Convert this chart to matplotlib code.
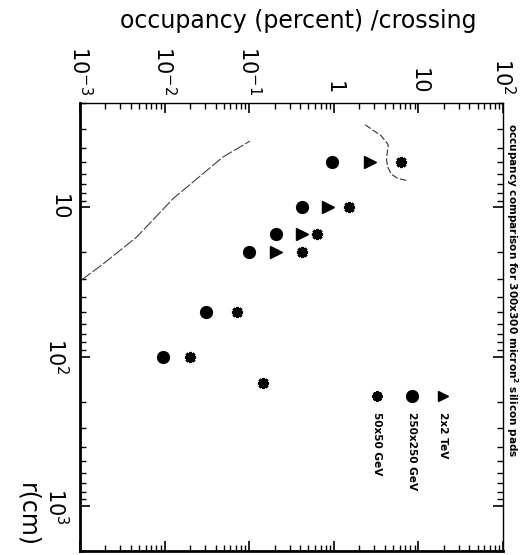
import numpy as np
import matplotlib
matplotlib.use("Agg")
import matplotlib.pyplot as plt
from matplotlib.ticker import FixedLocator, FixedFormatter, LogLocator, NullFormatter

# r (cm) positions of the measurements
r_circ = [5, 10, 15, 20, 50, 100]
occ_circ = [0.94, 0.42, 0.21, 0.10, 0.031, 0.0095]   # 250x250 GeV

r_tri = [5, 10, 15, 20]
occ_tri = [2.7, 0.85, 0.42, 0.21]                   # 2x2 TeV

r_star = [5, 10, 15, 20, 50, 100, 150]
occ_star = [6.3, 1.5, 0.64, 0.42, 0.071, 0.020, 0.145]  # 50x50 GeV

# thin curve (drawn on the scan)
curve_occ = [0.00105, 0.00188, 0.00468, 0.0127, 0.049, 0.102]
curve_r = [30.5, 23.9, 15.8, 8.7, 4.6, 3.6]

arc_occ = [2.35, 3.6, 4.4, 4.3, 4.2, 4.35, 4.8, 5.7, 7.2]
arc_r = [2.8, 3.3, 3.8, 4.2, 4.8, 5.4, 6.0, 6.4, 6.6]

xticks = [1e-3, 1e-2, 1e-1, 1, 10, 100]
xlabels = [r'$10^{-3}$', r'$10^{-2}$', r'$10^{-1}$', '1', '10', r'$10^{2}$']
yticks = [10, 100, 1000]
ylabels = ['10', r'$10^{2}$', r'$10^{3}$']

legend_names = ['2x2 TeV', '250x250 GeV', '50x50 GeV']

fig = plt.figure(figsize=(5.29, 5.55), dpi=100)
ax = fig.add_axes([80/529, 1-551/555, 423/529, 448/555])

ax.plot(curve_occ, curve_r, color='0.25', lw=0.8, ls=(0, (10, 2)))
ax.plot(arc_occ, arc_r, color='0.2', lw=0.8, ls=(0, (6, 2)))

star_m = (8, 2, 0)
ax.plot(occ_circ, r_circ, 'o', color='k', ms=8.5, ls='none')
ax.plot(occ_tri, r_tri, '>', color='k', ms=8, ls='none')
ax.plot(occ_star, r_star, marker=star_m, color='k', ms=8, mew=2.2, ls='none')

ax.set_xscale('log')
ax.set_yscale('log')
ax.set_xlim(1e-3, 1e2)
ax.set_ylim(2000, 2)

ax.xaxis.set_major_locator(FixedLocator(xticks))
ax.xaxis.set_major_formatter(FixedFormatter(xlabels))
ax.xaxis.set_minor_locator(LogLocator(base=10, subs=np.arange(2, 10)))
ax.xaxis.set_minor_formatter(NullFormatter())
ax.yaxis.set_major_locator(FixedLocator(yticks))
ax.yaxis.set_major_formatter(FixedFormatter(ylabels))
ax.yaxis.set_minor_locator(LogLocator(base=10, subs=np.arange(2, 10)))
ax.yaxis.set_minor_formatter(NullFormatter())

ax.tick_params(axis='x', which='both', direction='in', top=True, bottom=True,
               labeltop=True, labelbottom=False, labelsize=15, pad=6)
ax.tick_params(axis='y', which='both', direction='in', left=True, right=True,
               labelsize=15, pad=8)
ax.tick_params(which='major', length=7, width=1.2)
ax.tick_params(which='minor', length=4, width=1)
for lab in ax.get_xticklabels():
    lab.set_rotation(-90)
    lab.set_ha('center')
    lab.set_va('bottom')
for lab in ax.get_yticklabels():
    lab.set_rotation(-90)
    lab.set_ha('right')
    lab.set_va('center')

ax.spines['left'].set_linewidth(2)
ax.spines['bottom'].set_linewidth(2)
ax.spines['top'].set_linewidth(1)
ax.spines['right'].set_linewidth(1)

fig.text(298/529, 1-21/555, 'occupancy (percent) /crossing', fontsize=17,
         ha='center', va='center')
fig.text(27/529, 1-515/555, 'r(cm)', fontsize=17, rotation=-90,
         ha='center', va='center')

ax.text(1.022, 0.955, r'occupancy comparison for 300x300 micron$^{\mathbf{2}}$ silicon pads',
        transform=ax.transAxes, rotation=-90, ha='center', va='top',
        fontsize=7.6, fontweight='bold')

# legend
leg_x = [0.858, 0.785, 0.702]
leg_markers = ['>', 'o', star_m]
for xx, mk, name in zip(leg_x, leg_markers, legend_names):
    ax.plot([xx], [0.346], transform=ax.transAxes, marker=mk, color='k',
            ms=7.5 if mk != 'o' else 8.5, mew=2 if mk == star_m else 1, ls='none')
    ax.text(xx, 0.31, name, transform=ax.transAxes, rotation=-90,
            ha='center', va='top', fontsize=7.6, fontweight='bold')

fig.savefig('out.png', dpi=100)
